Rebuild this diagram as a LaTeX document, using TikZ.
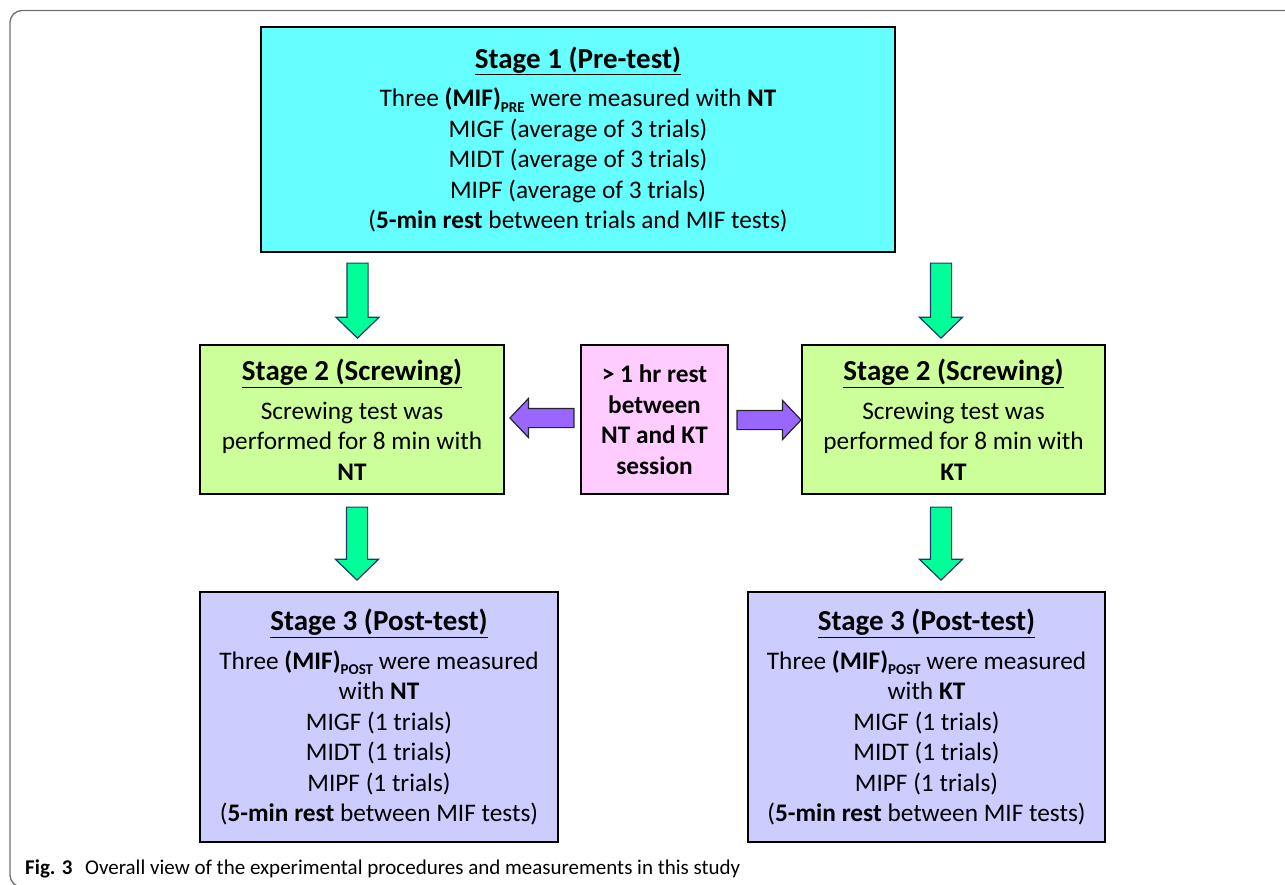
\documentclass[tikz,border=0pt]{standalone}
\usepackage{fontspec}
\setmainfont{Carlito}
\usetikzlibrary{shapes, arrows, positioning}
\definecolor{stagecyan}{HTML}{66FFFF}
\definecolor{stagegreen}{HTML}{CCFF99}
\definecolor{stagepink}{HTML}{FFCCFF}
\definecolor{stagelilac}{HTML}{CCCCFF}
\definecolor{arrowgreen}{HTML}{00FF99}
\definecolor{arrowpurple}{HTML}{9966FF}
\definecolor{arrowline}{HTML}{1F3864}
\definecolor{framegray}{HTML}{707070}
\newcommand{\stagetitle}[1]{{\fontsize{29}{30.5}\selectfont\underline{\textbf{#1}}}\\[8pt]}
\newcommand{\lowtag}[1]{\raisebox{-0.22em}{\fontsize{15}{15}\selectfont\textbf{#1}}}
\tikzstyle{stagebox} = [draw=black, line width=1.2pt, rectangle, align=center, inner sep=0pt, font=\fontsize{25.3}{30.5}\selectfont]
\tikzstyle{downarrow} = [single arrow, draw=arrowline, fill=arrowgreen, line width=1.2pt, minimum height=75pt, inner xsep=0pt, inner ysep=10pt, single arrow head extend=11pt, single arrow tip angle=92, rotate=-90]
\tikzstyle{sidearrow} = [single arrow, draw=black!85, fill=arrowpurple, line width=1.2pt, minimum height=64pt, inner xsep=0pt, inner ysep=9pt, single arrow head extend=10pt, single arrow tip angle=93]

\begin{document}
\begin{tikzpicture}[x=1pt, y=-1pt]
	\useasboundingbox (0,0) rectangle (1285,885);
	% frame of the figure
	\draw[framegray, line width=1.3pt, rounded corners=12pt] (1300,887) -- (10,887) -- (10,10.5) -- (1300,10.5);
	% stage boxes
	\node[stagebox, fill=stagecyan, minimum width=634pt, minimum height=225pt] (preNT) at (578,139.5) {%
		\stagetitle{Stage 1 (Pre-test)}
		Three \textbf{(MIF)}\lowtag{PRE} were measured with \textbf{NT}\\
		MIGF (average of 3 trials)\\
		MIDT (average of 3 trials)\\
		MIPF (average of 3 trials)\\
		(\textbf{5-min rest} between trials and MIF tests)};
	\node[stagebox, fill=stagegreen, minimum width=304pt, minimum height=149pt] (screwNT) at (352,419.5) {%
		\stagetitle{Stage 2 (Screwing)}
		Screwing test was\\
		performed for 8 min with\\
		\textbf{NT}};
	\node[stagebox, fill=stagepink, minimum width=147pt, minimum height=149pt] (rest) at (654.5,419.5) {%
		\textbf{> 1 hr rest}\\
		\textbf{between}\\
		\textbf{NT and KT}\\
		\textbf{session}};
	\node[stagebox, fill=stagegreen, minimum width=303pt, minimum height=149pt] (screwKT) at (953.5,419.5) {%
		\stagetitle{Stage 2 (Screwing)}
		Screwing test was\\
		performed for 8 min with\\
		\textbf{KT}};
	\node[stagebox, fill=stagelilac, minimum width=358pt, minimum height=250pt] (postNT) at (379,717) {%
		\stagetitle{Stage 3 (Post-test)}
		Three \textbf{(MIF)}\lowtag{POST} were measured\\
		with \textbf{NT}\\
		MIGF (1 trials)\\
		MIDT (1 trials)\\
		MIPF (1 trials)\\
		(\textbf{5-min rest} between MIF tests)};
	\node[stagebox, fill=stagelilac, minimum width=357pt, minimum height=250pt] (postKT) at (926.5,717) {%
		\stagetitle{Stage 3 (Post-test)}
		Three \textbf{(MIF)}\lowtag{POST} were measured\\
		with \textbf{KT}\\
		MIGF (1 trials)\\
		MIDT (1 trials)\\
		MIPF (1 trials)\\
		(\textbf{5-min rest} between MIF tests)};
	% block arrows
	\node[downarrow] (preNTdown) at (357.5,295.5) {};
	\node[downarrow] (preKTdown) at (941,295.5) {};
	\node[downarrow, minimum height=73pt] (screwNTdown) at (357,538.5) {};
	\node[downarrow, minimum height=73pt] (screwKTdown) at (941,538.5) {};
	\node[sidearrow, rotate=180] (restNT) at (546.5,418) {};
	\node[sidearrow] (restKT) at (764.5,420) {};
	% caption
	\node[anchor=base west, inner sep=0pt, font=\fontsize{21}{24}\selectfont] (caption) at (25,874) {\textbf{Fig. 3}\hspace{0.6em}Overall view of the experimental procedures and measurements in this study};
\end{tikzpicture}
\end{document}
